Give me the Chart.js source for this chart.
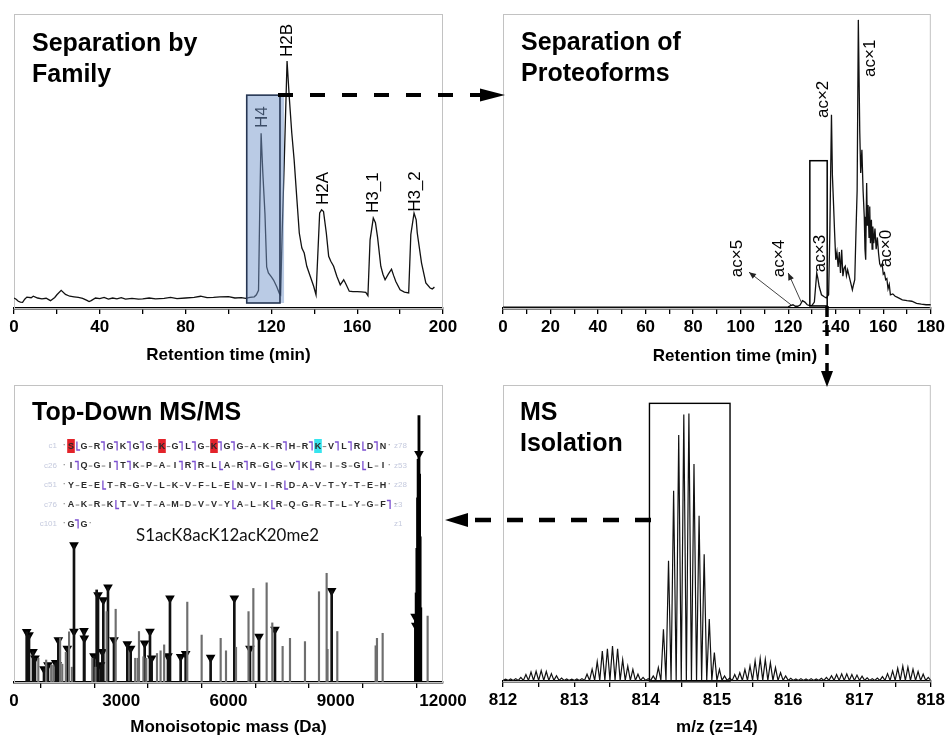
<!DOCTYPE html>
<html><head><meta charset="utf-8">
<script src="https://cdn.jsdelivr.net/npm/chart.js@4.4.1/dist/chart.umd.min.js"></script>
<style>
html,body{margin:0;padding:0;background:#fff;}
#wrap{position:relative;width:948px;height:738px;overflow:hidden;background:#fff;}
.p{position:absolute;width:474px;height:369px;}
.p canvas{display:block;}
#overlay{position:absolute;left:0;top:0;pointer-events:none;}
</style></head><body>
<div id="wrap">
<div class="p" style="left:0;top:0"><canvas id="c1" width="474" height="369"></canvas></div>
<div class="p" style="left:474px;top:0"><canvas id="c2" width="474" height="369"></canvas></div>
<div class="p" style="left:0;top:369px"><canvas id="c3" width="474" height="369"></canvas></div>
<div class="p" style="left:474px;top:369px"><canvas id="c4" width="474" height="369"></canvas></div>
<canvas id="overlay" width="948" height="738"></canvas>
</div>
<script>
// ---------------- DATA ----------------
// Panel 1: separation by family (retention time min, relative intensity)
const familyTrace = [[0,3.4],[1,3.0],[2,2.3],[3,2.0],[4,1.9],[5,3.0],[6,3.7],[8,3.5],[9,4.0],[11,3.4],[13,3.1],[15,3.3],[17,2.5],[19,3.6],[20,4.5],[22,6.0],[24,4.6],[26,4.0],[28,3.8],[30,3.6],[32,3.3],[34,2.6],[35,2.2],[36,2.5],[38,3.4],[40,3.2],[42,3.6],[44,3.0],[46,3.4],[48,3.1],[50,3.5],[52,3.0],[55,3.3],[58,3.0],[60,3.1],[63,3.4],[66,3.1],[70,3.3],[73,3.6],[76,3.2],[80,3.4],[84,3.6],[87,4.0],[90,3.5],[93,3.6],[96,3.8],[100,3.9],[103,3.4],[106,3.5],[108,3.3],[110,3.6],[112,3.8],[113,4.5],[114,6.0],[114.6,35],[115.2,59.4],[116,46],[117,32],[117.8,14],[118.6,11.9],[120,10.6],[121,9.5],[122.5,7.2],[123.7,5.0],[124.3,4.5],[125,25],[126,50],[127.3,84],[128.3,72],[129.5,59.5],[130.6,50.4],[131.9,36.8],[133,25.5],[134.2,20.4],[135.3,18.7],[136.5,14.2],[138.1,10.8],[139.7,7.4],[140.8,4.5],[142.5,32.3],[143.4,33.4],[144.3,32.8],[145.6,25.5],[146.7,17.6],[147.7,15.9],[149,14.2],[150.5,10.8],[152.1,7.9],[153.7,9.6],[154.5,8.5],[156.3,5.7],[158,5.6],[160,5.6],[162,5.5],[164,5.3],[165,4.2],[166,23.2],[167.5,30.6],[168.5,29],[169.5,24],[171,14.2],[172,11.5],[173,9.6],[174.5,11.5],[176,13.2],[177,11],[178,9],[180,6.2],[182,5.4],[184,5.1],[185,25],[186.5,32.3],[187.5,30],[188,25.5],[190,15.3],[192,8.5],[194,6.8],[195,6.5],[196,7.1]];
const familyLabels = [["H4",115.6,61.2],["H2B",127.3,85.4],["H2A",144,35],["H3_1",167.4,32.3],["H3_2",187,32.7]];
const familyBox = [108.5,124.0,125.9,1.7,72.4]; // x0, x1(border), x1(fill), y0, y1

// Panel 2: separation of proteoforms
const proteoTrace = [[0,0.3],[30,0.3],[60,0.3],[90,0.3],[118,0.3],[120,0.4],[121,0.8],[122,1.1],[123,0.6],[124,0.6],[125,1.0],[126,2.5],[127,2.0],[128,1.1],[129,0.8],[130,0.9],[131,2.0],[132,11.9],[132.5,10],[133,7.4],[134,4.5],[135,3.9],[136,3.4],[137,4.5],[137.5,25],[138.2,65.7],[138.6,45],[139,36.8],[139.5,26],[140,16.4],[140.5,19],[141,14],[141.5,19],[142,11.9],[142.5,19.8],[143,10.8],[143.5,13.5],[144,14.2],[144.5,11],[145,13],[146,9.6],[147,6.2],[147.5,8],[148,9.6],[148.5,25.5],[149,40],[149.5,98],[150.1,60],[150.5,45.9],[151,53.8],[151.5,40],[152,31],[152.3,20],[152.6,16.4],[153,42.5],[153.3,28],[153.6,35],[154,24],[154.3,34.5],[154.6,22],[155,30],[155.3,20],[155.6,27.7],[156,22],[156.5,27],[157,20],[157.5,24],[158,18.7],[158.5,15],[159,14.2],[159.5,15],[160,11.5],[160.5,12],[161,9.6],[161.5,10],[162,6.5],[162.5,8],[163,4.5],[164,4.8],[165,4],[166,3.6],[168,2.8],[170,2.5],[172,2.3],[174,1.6],[176,1.3],[178,1.1],[180,1.1]];
const proteoLabels = [["ac\u00d75",98.6,10.5],["ac\u00d74",116.2,10.5],["ac\u00d73",133.4,12.2],["ac\u00d72",134.7,64.6],["ac\u00d71",154.4,78.6],["ac\u00d70",161.1,13.9]];
const proteoPointers = [[103.5,12.2,121.3,1.0],[120.0,11.9,125.5,2.0]]; // label end -> peak
const proteoBox = [129.1,136.4,0.7,50.1];

// Panel 3: top-down MS/MS (monoisotopic mass Da, relative intensity)
const grayPeaks = [[680,8],[900,7.4],[1040,5.7],[1100,5.7],[1290,14.8],[1350,6],[1450,10],[1540,16.9],[1620,5],[2190,8],[2280,5],[2592,23.7],[2844,24.5],[3390,8],[3460,8],[3496,17],[3620,8.5],[3700,8],[4000,9.6],[4100,10.5],[4200,12.5],[4847,26.9],[5249,15.8],[5781,14.7],[5930,10.5],[6210,11.7],[6560,23.7],[6695,31.5],[7067,33.4],[7225,19.9],[7514,12],[7720,14.7],[8139,13.6],[8531,30.4],[8745,36.6],[8770,11],[9043,17],[10116,12.2],[10153,14.7],[10312,16.4],[11570,22.2]];
const fragmentPeaks = [[355,16.9],[420,15.8],[531,10.2],[587,8],[839,4.4],[950,5.7],[1166,6.5],[1210,5.7],[1240,14.1],[1491,11.3],[1678,46.1],[1958,17.2],[1967,14.7],[2238,8.7],[2312,31],[2350,29.3],[2420,5.7],[2470,10.2],[2498,27.6],[2629,31.9],[2797,14.1],[3170,12.8],[3263,11.3],[3655,13],[3804,17],[3850,8],[4307,8.7],[4363,28.2],[4662,8.5],[4802,9.5],[5500,8.2],[6163,28.2],[6600,11.3],[6853,15.3],[7300,17.7],[8886,30.7]];
const fragmentMarks = [[355,16.9],[420,15.8],[531,10.2],[587,8],[839,4.4],[950,5.7],[1166,6.5],[1210,5.7],[1240,14.1],[1491,11.3],[1678,46.1],[1678,17],[1958,17.2],[1967,14.7],[2238,8.7],[2350,29.3],[2420,5.7],[2470,10.2],[2498,27.6],[2629,31.9],[2797,14.1],[3170,12.8],[3263,11.3],[3655,13],[3804,17],[3850,8],[4307,8.7],[4363,28.2],[4662,8.5],[4802,9.5],[5500,8.2],[6163,28.2],[6600,11.3],[6853,15.3],[7300,17.7],[8886,30.7],[11220,22],[11240,19],[11328,76.8]];
const parentPeaks = [[11230,22],[11250,30],[11270,45],[11290,62],[11305,75],[11328,89.7],[11345,70],[11360,48.9],[11378,25]];
const seqLines = ['S[G-R]G]K]G]G-K-G]L]G-K]G]G-A-K-R]H-R]K-V]L]R[D]N','I]Q-G-I]T]K-P-A-I]R]R-L[A-R]R-G[G-V]K[R-I-S-G[L-I','Y-E-E[T-R-G-V-L-K-V-F-L-E[N-V-I-R[D-A-V-T-Y-T-E-H','A-K-R-K[T-V-T-A-M-D-V-V-Y[A-L-K[R-Q-G-R-T-L-Y-G-F]','G]G'];
const seqLeft = ['c1','c26','c51','c76','c101'];
const seqRight = ['z78','z53','z28','z3','z1'];
const seqMods = [[0,0,'#e3232a'],[0,7,'#e3232a'],[0,11,'#e3232a'],[0,19,'#36e4ee']];
const proteoformName = 'S1acK8acK12acK20me2';

// Panel 4: MS isolation, isotopic peaks of z=14 (spacing 1/14 m/z)
const isoStart = 812, isoSpacing = 1/14, isoBase = 0.2;
const isoPeaks = [0.6,0.7,0.8, 1.2,2.2,3.0,3.3,3.5,3.2,2.5,1.8,1.0, 0.7,0.6,0.7,0.8, 2.3,4.0,6.5,10.1,10.9,11.8,10.9,7.2,5.0,3.9,2.3,1.2, 0.8, 1.7,4.5,17.5,40.6,64.3,83.1,90,90.4,73.3,55.8,42.8,20.9,9.6,3.9,1.7, 1.0, 2.2,2.8,3.9,5.1,6.8,7.6,7.3,6.2,4.5,2.8,1.7,0.9, 0.7,0.8,0.7,0.8,0.7,0.9, 1.2,1.8,2.2,2.4,2.4,2.2,2.0,1.6,1.1, 0.8,1.0, 1.5,2.5,3.4,4.3,5.0,4.7,4.0,3.2,2.3,1.2];
const isoWindow = [814.054,815.184,0,93.8];

// ---------------- HELPERS ----------------
const FONT = '"Liberation Sans", Arial, sans-serif';
const pts = arr => arr.map(([x,y]) => ({x, y}));

function xAxis(min, max, step, every, title, height, titlePad, showTitle) {
  return {
    type: 'linear', min, max, offset: false,
    afterFit(s) { s.height = height; },
    ticks: { stepSize: step, autoSkip: false, maxRotation: 0, color: '#000', padding: 3,
      font: { family: FONT, size: 17, weight: 'bold' },
      callback: v => (Math.abs(v / every - Math.round(v / every)) < 1e-6 ? String(v) : '') },
    grid: { display: true, drawOnChartArea: false, drawTicks: true, tickLength: 6, color: '#000', lineWidth: 1.3 },
    border: { display: true, color: '#000', width: 2.5 },
    title: { display: showTitle, text: title, color: '#000', font: { family: FONT, size: 17, weight: 'bold' }, padding: { top: 0, bottom: titlePad } }
  };
}
const yAxis = { display: false, min: 0, max: 100 };

function frame(chart) {
  const { ctx, chartArea: a } = chart;
  ctx.save(); ctx.strokeStyle = '#c2c2c2'; ctx.lineWidth = 1;
  ctx.strokeRect(a.left + 0.5, a.top + 0.5, a.right - a.left - 1, a.bottom - a.top);
  ctx.restore();
}
function bigTitle(ctx, lines, x, y) {
  ctx.save(); ctx.font = 'bold 25px ' + FONT; ctx.fillStyle = '#000';
  ctx.textAlign = 'left'; ctx.textBaseline = 'alphabetic';
  lines.forEach((t, i) => ctx.fillText(t, x, y + i * 30.5));
  ctx.restore();
}
function rotLabel(chart, xv, yv, text) {
  const ctx = chart.ctx;
  const x = chart.scales.x.getPixelForValue(xv), y = chart.scales.y.getPixelForValue(yv);
  ctx.save(); ctx.translate(x, y); ctx.rotate(-Math.PI / 2);
  ctx.font = '17px ' + FONT; ctx.fillStyle = '#000'; ctx.textAlign = 'left'; ctx.textBaseline = 'middle';
  ctx.fillText(text, 0, 0); ctx.restore();
}
function boxPx(chart, x0, x1, y0, y1) {
  const sx = chart.scales.x, sy = chart.scales.y;
  const l = sx.getPixelForValue(x0), r = sx.getPixelForValue(x1);
  const b = sy.getPixelForValue(y0), t = sy.getPixelForValue(y1);
  return [l, t, r - l, b - t];
}
const baseOpts = { responsive: false, animation: false, devicePixelRatio: 1,
  plugins: { legend: { display: false }, tooltip: { enabled: false } } };

// ---------------- PANEL 1 ----------------
new Chart(document.getElementById('c1'), {
  type: 'line',
  data: { datasets: [{ data: pts(familyTrace), borderColor: '#111', borderWidth: 1.3, pointRadius: 0, tension: 0, fill: false }] },
  options: Object.assign({}, baseOpts, {
    layout: { padding: { left: 14, right: 31, top: 14, bottom: 0 } },
    scales: { x: xAxis(0, 200, 20, 40, 'Retention time (min)', 61, 3, true), y: yAxis }
  }),
  plugins: [{ id: 'p1',
    beforeDatasetsDraw(chart) { frame(chart); },
    afterDatasetsDraw(chart) {
      familyLabels.forEach(([t, x, y]) => rotLabel(chart, x, y, t));
      const ctx = chart.ctx;
      const [x0, x1, x2, y0, y1] = familyBox;
      ctx.save();
      ctx.fillStyle = 'rgba(118,152,204,0.5)';
      ctx.fillRect(...boxPx(chart, x0, x2, y0, y1));
      ctx.strokeStyle = '#263653'; ctx.lineWidth = 1.6;
      ctx.strokeRect(...boxPx(chart, x0, x1, y0, y1));
      ctx.restore();
    },
    afterDraw(chart) { bigTitle(chart.ctx, ['Separation by', 'Family'], 32, 51); }
  }]
});

// ---------------- PANEL 2 ----------------
new Chart(document.getElementById('c2'), {
  type: 'line',
  data: { datasets: [{ data: pts(proteoTrace), borderColor: '#111', borderWidth: 1.3, pointRadius: 0, tension: 0, fill: false }] },
  options: Object.assign({}, baseOpts, {
    layout: { padding: { left: 29, right: 16, top: 14, bottom: 0 } },
    scales: { x: xAxis(0, 180, 10, 20, 'Retention time (min)', 61, 3, false), y: yAxis }
  }),
  plugins: [{ id: 'p2',
    beforeDatasetsDraw(chart) { frame(chart); },
    afterDatasetsDraw(chart) {
      const ctx = chart.ctx, sx = chart.scales.x, sy = chart.scales.y;
      proteoLabels.forEach(([t, x, y]) => rotLabel(chart, x, y, t));
      ctx.save();
      ctx.strokeStyle = '#000'; ctx.lineWidth = 1.5;
      ctx.strokeRect(...boxPx(chart, proteoBox[0], proteoBox[1], proteoBox[2], proteoBox[3]));
      ctx.strokeStyle = '#444'; ctx.fillStyle = '#222'; ctx.lineWidth = 1;
      proteoPointers.forEach(([xa, ya, xb, yb]) => {
        const ax = sx.getPixelForValue(xa), ay = sy.getPixelForValue(ya);
        const bx = sx.getPixelForValue(xb), by = sy.getPixelForValue(yb);
        ctx.beginPath(); ctx.moveTo(bx, by); ctx.lineTo(ax, ay); ctx.stroke();
        const ang = Math.atan2(ay - by, ax - bx), L = 7, W = 3;
        ctx.beginPath(); ctx.moveTo(ax, ay);
        ctx.lineTo(ax - L * Math.cos(ang) + W * Math.sin(ang), ay - L * Math.sin(ang) - W * Math.cos(ang));
        ctx.lineTo(ax - L * Math.cos(ang) - W * Math.sin(ang), ay - L * Math.sin(ang) + W * Math.cos(ang));
        ctx.closePath(); ctx.fill();
      });
      ctx.restore();
    },
    afterDraw(chart) {
      const ctx = chart.ctx;
      bigTitle(ctx, ['Separation of', 'Proteoforms'], 47, 50);
      ctx.save(); ctx.font = 'bold 17px ' + FONT; ctx.fillStyle = '#000';
      ctx.textAlign = 'center'; ctx.textBaseline = 'middle';
      ctx.fillText('Retention time (min)', 261, 356); ctx.restore();
    }
  }]
});

// ---------------- PANEL 3 ----------------
function drawSequence(ctx, oy) {
  const x0 = 71, dx = 13, y0 = 446 - oy, dy = 19.5;
  ctx.save();
  seqLines.forEach((line, j) => {
    const y = y0 + j * dy;
    ctx.font = '8px ' + FONT; ctx.fillStyle = '#c5cade'; ctx.textBaseline = 'middle';
    ctx.textAlign = 'right'; ctx.fillText(seqLeft[j], 57, y);
    ctx.textAlign = 'left'; ctx.fillText(seqRight[j], 394, y);
    let i = 0, trailing = false;
    ctx.fillStyle = '#999'; ctx.textAlign = 'center'; ctx.font = 'bold 9px ' + FONT;
    ctx.fillText('\u00b7', x0 - 6.5, y);
    for (let c = 0; c < line.length; c++) {
      const ch = line[c];
      if (/[A-Z]/.test(ch)) {
        const x = x0 + dx * i;
        seqMods.forEach(([r, idx, col]) => {
          if (r === j && idx === i) { ctx.fillStyle = col; ctx.fillRect(x - 3.8, y - 7, 7.6, 14); }
        });
        ctx.fillStyle = '#2a2a2a'; ctx.font = 'bold 9px ' + FONT; ctx.textAlign = 'center';
        ctx.fillText(ch, x, y + 0.5);
        i++; trailing = false;
      } else {
        const x = x0 + dx * (i - 0.5);
        trailing = (c === line.length - 1);
        if (ch === '-') {
          ctx.fillStyle = '#8a8a8a'; ctx.fillRect(x - 1.8, y, 3.6, 1.1);
        } else {
          ctx.strokeStyle = '#7b4fd0'; ctx.lineWidth = 1.3; ctx.beginPath();
          if (ch === ']') { ctx.moveTo(x - 2.6, y - 4); ctx.lineTo(x + 0.6, y - 4); ctx.lineTo(x + 0.6, y + 4.5); }
          else { ctx.moveTo(x - 0.6, y - 4.5); ctx.lineTo(x - 0.6, y + 4); ctx.lineTo(x + 2.6, y + 4); }
          ctx.stroke();
        }
      }
    }
    ctx.fillStyle = '#999'; ctx.font = 'bold 9px ' + FONT; ctx.textAlign = 'center';
    ctx.fillText('\u00b7', x0 + dx * (i - 0.5) + (trailing ? 6 : 0), y);
  });
  // proteoform name
  ctx.fillStyle = '#111'; ctx.textAlign = 'center'; ctx.textBaseline = 'middle';
  ctx.font = '18px Lato, "Open Sans", sans-serif';
  const w = ctx.measureText(proteoformName).width;
  const fs = 18 * 183 / w;
  ctx.font = fs.toFixed(2) + 'px Lato, "Open Sans", sans-serif';
  ctx.fillText(proteoformName, 227.5, 536 - oy);
  ctx.restore();
}
new Chart(document.getElementById('c3'), {
  type: 'bar',
  data: { datasets: [
    { type: 'bar', data: pts(grayPeaks), backgroundColor: '#6e6e6e', barThickness: 1.5, grouped: false },
    { type: 'bar', data: pts(fragmentPeaks), backgroundColor: '#111', barThickness: 2, grouped: false },
    { type: 'bar', data: pts(parentPeaks), backgroundColor: '#000', barThickness: 2.2, grouped: false },
    { type: 'scatter', data: pts(fragmentMarks), pointStyle: 'triangle', rotation: 180, pointRadius: 5.6,
      backgroundColor: '#000', borderColor: '#000', borderWidth: 0, showLine: false }
  ] },
  options: Object.assign({}, baseOpts, {
    layout: { padding: { left: 14, right: 31, top: 16, bottom: 0 } },
    scales: { x: xAxis(0, 12000, 1500, 3000, 'Monoisotopic mass (Da)', 56, 0, true), y: yAxis }
  }),
  plugins: [{ id: 'p3',
    beforeDatasetsDraw(chart) { frame(chart); },
    afterDraw(chart) {
      bigTitle(chart.ctx, ['Top-Down MS/MS'], 32, 51);
      drawSequence(chart.ctx, 369);
    }
  }]
});

// ---------------- PANEL 4 ----------------
const isoProfile = [];
isoPeaks.forEach((h, k) => {
  isoProfile.push({ x: isoStart + k * isoSpacing, y: isoBase });
  isoProfile.push({ x: isoStart + (k + 0.5) * isoSpacing, y: h });
});
isoProfile.push({ x: 818, y: isoBase });
new Chart(document.getElementById('c4'), {
  type: 'line',
  data: { datasets: [{ data: isoProfile, borderColor: '#111', borderWidth: 1.2, pointRadius: 0, tension: 0, fill: false }] },
  options: Object.assign({}, baseOpts, {
    layout: { padding: { left: 29, right: 16, top: 16, bottom: 0 } },
    scales: { x: xAxis(812, 818, 0.5, 1, 'm/z (z=14)', 57, 0, true), y: yAxis }
  }),
  plugins: [{ id: 'p4',
    beforeDatasetsDraw(chart) { frame(chart); },
    afterDatasetsDraw(chart) {
      const ctx = chart.ctx;
      ctx.save(); ctx.strokeStyle = '#000'; ctx.lineWidth = 1.4;
      ctx.strokeRect(...boxPx(chart, isoWindow[0], isoWindow[1], isoWindow[2], isoWindow[3]));
      ctx.restore();
    },
    afterDraw(chart) { bigTitle(chart.ctx, ['MS', 'Isolation'], 46, 51); }
  }]
});

// ---------------- WORKFLOW ARROWS ----------------
(function () {
  const o = document.getElementById('overlay').getContext('2d');
  o.fillStyle = '#000'; o.strokeStyle = '#000'; o.lineCap = 'butt';
  // panel 1 -> panel 2
  o.lineWidth = 4; o.setLineDash([15, 17]);
  o.beginPath(); o.moveTo(278, 95); o.lineTo(484, 95); o.stroke();
  o.setLineDash([]);
  o.beginPath(); o.moveTo(480, 88.5); o.lineTo(505, 95); o.lineTo(480, 101.5); o.closePath(); o.fill();
  // panel 2 -> panel 4
  o.lineWidth = 3.5; o.setLineDash([11, 8]);
  o.beginPath(); o.moveTo(827, 306); o.lineTo(827, 373); o.stroke();
  o.setLineDash([]);
  o.beginPath(); o.moveTo(821, 371); o.lineTo(827, 387); o.lineTo(833, 371); o.closePath(); o.fill();
  // panel 4 -> panel 3
  o.lineWidth = 4.5; o.setLineDash([16, 16]);
  o.beginPath(); o.moveTo(651, 520); o.lineTo(466, 520); o.stroke();
  o.setLineDash([]);
  o.beginPath(); o.moveTo(468, 513); o.lineTo(445, 520); o.lineTo(468, 527); o.closePath(); o.fill();
})();
</script>
</body></html>
